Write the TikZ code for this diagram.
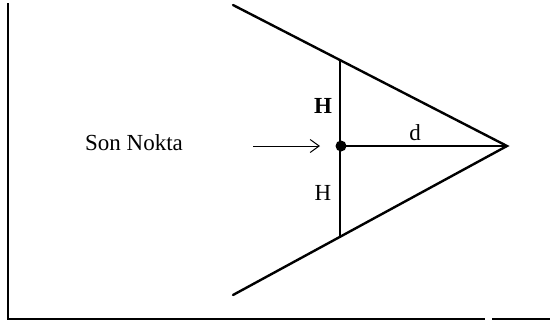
\documentclass[tikz,border=0pt]{standalone}
\usepackage{fontspec}
\setmainfont{Liberation Serif}
\usetikzlibrary{arrows.meta}
\begin{document}
\begin{tikzpicture}[x=1pt,y=-1pt,
  lbl/.style={font=\fontsize{23}{26}\selectfont, inner sep=0pt, anchor=base},
  thick2/.style={line width=2.4pt, line cap=round},
  frame/.style={line width=1.3pt}]
\useasboundingbox (0,0) rectangle (550,325);
% frame
\coordinate (ftop) at (8,3);
\coordinate (fcorner) at (8,319);
\coordinate (fgap1) at (485,319);
\coordinate (fgap2) at (492,319);
\coordinate (fend) at (550,319);
\draw[frame] (ftop) -- (fcorner) -- (fgap1);
\draw[frame] (fgap2) -- (fend);
% triangle
\coordinate (up) at (233,5);
\coordinate (tip) at (507,146);
\coordinate (low) at (233,295);
\draw[thick2] (up) -- (tip) -- (low);
% vertical line
\coordinate (vt) at (340,61);
\coordinate (vb) at (340,237);
\draw[line width=1.8pt] (vt) -- (vb);
% dot
\node[circle, fill=black, inner sep=0pt, minimum size=11pt] (dot) at (341,146) {};
\draw[line width=1.9pt] (dot.center) -- (tip);
% arrow
\node[lbl] (son) at (134,150) {Son Nokta};
\coordinate (as) at (253,146);
\coordinate (ae) at (320,146);
\draw[line width=1pt, -{Straight Barb[length=9pt,width=13pt]}] (as) -- (ae);
% labels
\node[lbl] (h1) at (323,113) {\textbf{H}};
\node[lbl] (h2) at (323,200) {H};
\node[lbl] (d) at (415,140) {d};
\end{tikzpicture}
\end{document}
